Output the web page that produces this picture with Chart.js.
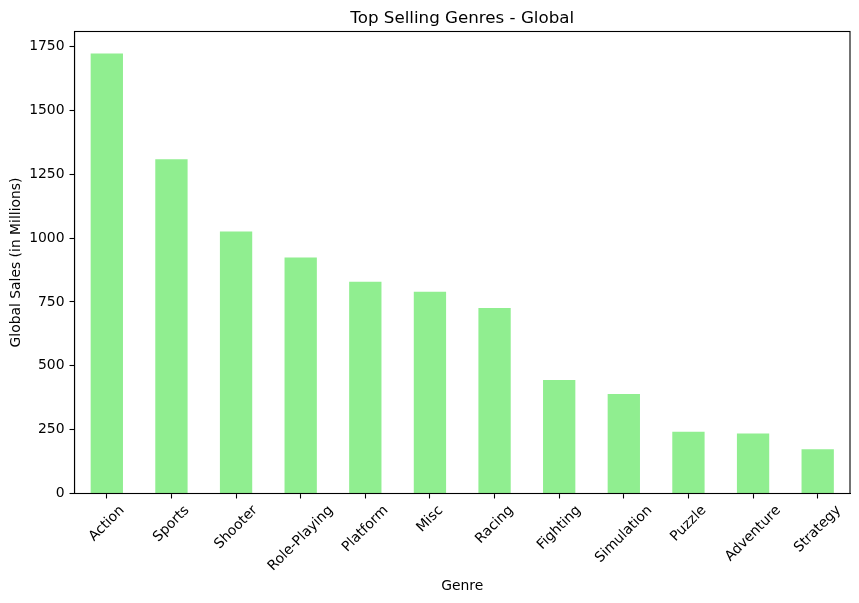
<!DOCTYPE html>
<html>
<head>
<meta charset="utf-8">
<script src="https://cdn.jsdelivr.net/npm/chart.js@4.4.0/dist/chart.umd.min.js"></script>
<style>
  html, body { margin: 0; padding: 0; background: #fff; }
  #wrap { width: 859px; height: 603px; }
</style>
</head>
<body>
<div id="wrap"><canvas id="myChart"></canvas></div>
<script>
// data
const genres = ["Action", "Sports", "Shooter", "Role-Playing", "Platform", "Misc",
  "Racing", "Fighting", "Simulation", "Puzzle", "Adventure", "Strategy"];
const globalSales = [1722.8, 1309.2, 1026.2, 923.8, 829.1, 789.9,
  726.5, 444.1, 390.0, 242.2, 234.6, 173.3];
const yTicks = [0, 250, 500, 750, 1000, 1250, 1500, 1750];

const FONT = "DejaVu Sans";
const TICK_SIZE = 13.9;

// draws frame, rotated category labels and the titles (matplotlib look)
const mplLook = {
  id: "mplLook",
  afterDraw(chart) {
    const c = chart.ctx;
    const area = chart.chartArea;
    const x = chart.scales.x;
    c.save();
    c.strokeStyle = "#000";
    c.lineWidth = 1.1;
    c.strokeRect(area.left, area.top, area.right - area.left, area.bottom - area.top);

    // category labels, rotated 45deg, bbox centred under the tick
    c.fillStyle = "#000";
    c.font = TICK_SIZE + "px '" + FONT + "'";
    c.textAlign = "center";
    c.textBaseline = "middle";
    const top = area.bottom + 4.9 + 4.9;
    genres.forEach((g, i) => {
      const px = x.getPixelForTick(i);
      const w = c.measureText(g).width;
      const h = TICK_SIZE * 1.0;
      const box = (w + h) * Math.SQRT1_2;
      c.save();
      c.translate(px, top + box / 2);
      c.rotate(-Math.PI / 4);
      c.fillText(g, 0, 0);
      c.restore();
    });

    // axis titles
    const mid = (area.left + area.right) / 2;
    c.fillText("Genre", mid, 586);
    c.save();
    c.translate(16, (area.top + area.bottom) / 2);
    c.rotate(-Math.PI / 2);
    c.fillText("Global Sales (in Millions)", 0, 0);
    c.restore();

    // title
    c.font = "16.7px '" + FONT + "'";
    c.textBaseline = "alphabetic";
    c.fillText("Top Selling Genres - Global", mid, 23);
    c.restore();
  }
};

const ctx = document.getElementById("myChart");
new Chart(ctx, {
  type: "bar",
  data: {
    labels: genres,
    datasets: [{
      label: "Global Sales",
      data: globalSales,
      backgroundColor: "#90ee90",
      borderWidth: 0,
      barPercentage: 0.5,
      categoryPercentage: 1.0,
    }],
  },
  options: {
    responsive: true,
    maintainAspectRatio: false,
    animation: false,
    layout: { padding: { left: 0, right: 9, top: 31.5, bottom: 0 } },
    plugins: {
      legend: { display: false },
      tooltip: { enabled: false },
      title: { display: false },
    },
    scales: {
      x: {
        grid: { display: true, offset: false, drawOnChartArea: false, drawTicks: true, tickLength: 5, tickColor: "#000", tickWidth: 1.1 },
        border: { display: true, color: "#000", width: 1.1 },
        ticks: { display: false },
        afterFit(scale) { scale.height = 603 - 493.5; },
      },
      y: {
        min: 0,
        max: Math.max(...globalSales) * 1.05,
        grid: { display: true, drawOnChartArea: false, drawTicks: true, tickLength: 5, tickColor: "#000", tickWidth: 1.1 },
        border: { display: true, color: "#000", width: 1.1 },
        ticks: {
          color: "#000",
          padding: 5,
          font: { family: FONT, size: TICK_SIZE },
          autoSkip: false,
          callback: (v) => String(v),
        },
        afterBuildTicks(scale) {
          scale.ticks = yTicks.map(v => ({ value: v }));
        },
        afterFit(scale) { scale.width = 74.5; },
      },
    },
  },
  plugins: [mplLook],
});
</script>
</body>
</html>
